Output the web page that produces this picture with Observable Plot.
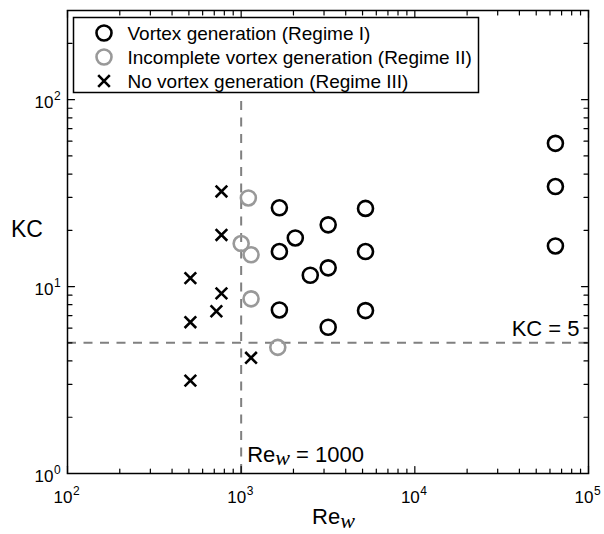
<!DOCTYPE html>
<html><head><meta charset="utf-8">
<script src="https://cdn.jsdelivr.net/npm/d3@7"></script>
<script src="https://cdn.jsdelivr.net/npm/@observablehq/plot@0.6"></script>
<style>
body{margin:0;background:#fff;}
#chart svg{display:block;font-family:"Liberation Sans",Arial,sans-serif;}
</style></head><body><div id="chart"></div>
<script>
// Regime I: vortex generation
const regime1Re = [1660, 1660, 1660, 2050, 2500, 3170, 3170, 3170, 5200, 5200, 5200, 64500, 64500, 64500];
const regime1KC = [26.4, 15.4, 7.5, 18.2, 11.5, 21.4, 12.6, 6.06, 26.2, 15.4, 7.44, 58.4, 34.3, 16.5];
// Regime II: incomplete vortex generation
const regime2Re = [1100, 1000, 1140, 1140, 1625];
const regime2KC = [29.8, 17.0, 14.8, 8.6, 4.73];
// Regime III: no vortex generation
const regime3Re = [770, 770, 770, 720, 510, 510, 510, 1140];
const regime3KC = [32.3, 18.9, 9.2, 7.38, 11.1, 6.45, 3.14, 4.16];

const legendLabels = ["Vortex generation (Regime I)", "Incomplete vortex generation (Regime II)", "No vortex generation (Regime III)"];
const xMajorTicks = [100, 1000, 10000, 100000];
const xTickExponents = ["2", "3", "4", "5"];
const yMajorTicks = [1, 10, 100];
const yTickExponents = ["0", "1", "2"];
const minorMultipliers = [2, 3, 4, 5, 6, 7, 8, 9];
const reThreshold = 1000;
const kcThreshold = 5;
const annotationLabels = ["Re_w = 1000", "KC = 5"];
const xLabel = "Re_w";
const yLabel = "KC";

const toRows = (re, kc) => re.map((r, i) => ({re: r, kc: kc[i]}));
const regime1 = toRows(regime1Re, regime1KC);
const regime2 = toRows(regime2Re, regime2KC);
const regime3 = toRows(regime3Re, regime3KC);

const xMinor = [100, 1000, 10000].flatMap(d => minorMultipliers.map(m => d * m));
const yMinor = [1, 10, 100].flatMap(d => minorMultipliers.map(m => d * m)).filter(v => v < 300);

const tickShape = {draw(ctx, l) { ctx.moveTo(0, 0); ctx.lineTo(0, -l); }};
const crossSymbol = {draw(ctx, size) { const s = Math.sqrt(size / Math.PI); ctx.moveTo(-s, -s); ctx.lineTo(s, s); ctx.moveTo(s, -s); ctx.lineTo(-s, s); }};

const GRAY = "#999999";
const DASH = "#808080";

function xTicks(values, len) {
  return [
    Plot.vector(values, {x: d => d, frameAnchor: "bottom", length: len, rotate: 0, anchor: "start", shape: tickShape, stroke: "black", strokeWidth: 1.2}),
    Plot.vector(values, {x: d => d, frameAnchor: "top", length: len, rotate: 180, anchor: "start", shape: tickShape, stroke: "black", strokeWidth: 1.2})
  ];
}
function yTicks(values, len) {
  return [
    Plot.vector(values, {y: d => d, frameAnchor: "left", length: len, rotate: 90, anchor: "start", shape: tickShape, stroke: "black", strokeWidth: 1.2}),
    Plot.vector(values, {y: d => d, frameAnchor: "right", length: len, rotate: -90, anchor: "start", shape: tickShape, stroke: "black", strokeWidth: 1.2})
  ];
}

const rowY = [22.5, 46.5, 70.5];

const chart = Plot.plot({
  width: 604,
  height: 534,
  marginLeft: 67,
  marginRight: 16,
  marginTop: 10,
  marginBottom: 61,
  x: {type: "log", domain: [100, 100000], axis: null},
  y: {type: "log", domain: [1, 300], axis: null},
  style: {fontFamily: "'Liberation Sans', Arial, sans-serif", background: "white", color: "black"},
  marks: [
    Plot.ruleY([kcThreshold], {stroke: DASH, strokeWidth: 2, strokeDasharray: "9,7.5"}),
    Plot.ruleX([reThreshold], {y1: 1, y2: 100, stroke: DASH, strokeWidth: 2, strokeDasharray: "9,7.5"}),
    Plot.dot(regime3, {x: "re", y: "kc", symbol: crossSymbol, r: 5.8, stroke: "black", strokeWidth: 2.6, fill: "none"}),
    Plot.dot(regime2, {x: "re", y: "kc", r: 7.5, stroke: GRAY, strokeWidth: 2.6, fill: "none"}),
    Plot.dot(regime1, {x: "re", y: "kc", r: 7.5, stroke: "black", strokeWidth: 2.6, fill: "none"}),
    // legend
    Plot.frame({insetLeft: 6, insetTop: 7, insetRight: 110, insetBottom: 381, fill: "white", stroke: "black", strokeWidth: 1.5}),
    Plot.dot([legendLabels[0]], {frameAnchor: "top-left", dx: 36.5, dy: rowY[0], r: 7.5, stroke: "black", strokeWidth: 2.6, fill: "none"}),
    Plot.dot([legendLabels[1]], {frameAnchor: "top-left", dx: 36.5, dy: rowY[1], r: 7.5, stroke: GRAY, strokeWidth: 2.6, fill: "none"}),
    Plot.dot([legendLabels[2]], {frameAnchor: "top-left", dx: 36.5, dy: rowY[2], symbol: crossSymbol, r: 5.8, stroke: "black", strokeWidth: 2.6, fill: "none"}),
    ...legendLabels.map((lab, i) => Plot.text([lab], {frameAnchor: "top-left", text: d => d, dx: 60, dy: rowY[i] + 7, textAnchor: "start", lineAnchor: "bottom", fontSize: 19, fill: "black"})),
    // ticks
    ...xTicks(xMajorTicks, 7),
    ...xTicks(xMinor, 4.5),
    ...yTicks(yMajorTicks, 7),
    ...yTicks(yMinor, 4.5),
    Plot.frame({stroke: "black", strokeWidth: 1.5}),
    // tick labels
    Plot.text(xMajorTicks, {x: d => d, frameAnchor: "bottom", text: () => "10", textAnchor: "end", lineAnchor: "bottom", dx: 5, dy: 29.5, fontSize: 17, fill: "black"}),
    Plot.text(xMajorTicks, {x: d => d, frameAnchor: "bottom", text: (d, i) => xTickExponents[i], textAnchor: "start", lineAnchor: "bottom", dx: 5.5, dy: 21, fontSize: 12, fill: "black"}),
    Plot.text(yMajorTicks, {y: d => d, frameAnchor: "left", text: () => "10", textAnchor: "end", lineAnchor: "bottom", dx: -14, dy: 8.5, fontSize: 17, fill: "black"}),
    Plot.text(yMajorTicks, {y: d => d, frameAnchor: "left", text: (d, i) => yTickExponents[i], textAnchor: "start", lineAnchor: "bottom", dx: -13.5, dy: 0.5, fontSize: 12, fill: "black"}),
    // annotations
    Plot.text([annotationLabels[0]], {x: reThreshold, y: 1, text: d => d, textAnchor: "start", lineAnchor: "bottom", dx: 6, dy: -12, fontSize: 22, fill: "black"}),
    Plot.text([annotationLabels[1]], {x: 100000, y: kcThreshold, text: d => d, textAnchor: "end", lineAnchor: "bottom", dx: -9, dy: -6.5, fontSize: 22, fill: "black"}),
    // axis labels
    Plot.text([xLabel], {frameAnchor: "bottom", text: d => d, textAnchor: "start", lineAnchor: "bottom", dx: -16, dy: 50.5, fontSize: 22, fill: "black"}),
    Plot.text([yLabel], {frameAnchor: "left", text: d => d, textAnchor: "start", lineAnchor: "bottom", dx: -56.5, dy: -5.5, fontSize: 23, fill: "black"})
  ]
});

// render "_w" as an italic serif subscript
d3.select(chart).selectAll("text").filter(function() { return this.textContent.includes("_w"); }).each(function() {
  const parts = this.textContent.split("_w");
  const t = d3.select(this);
  t.text(null);
  t.append("tspan").text(parts[0]);
  t.append("tspan").attr("dy", 3.5).attr("font-family", "'Liberation Serif','Times New Roman',serif").attr("font-style", "italic").text("w");
  if (parts[1]) t.append("tspan").attr("dy", -3.5).text(parts[1]);
});

document.getElementById("chart").append(chart);
</script>
</body></html>
